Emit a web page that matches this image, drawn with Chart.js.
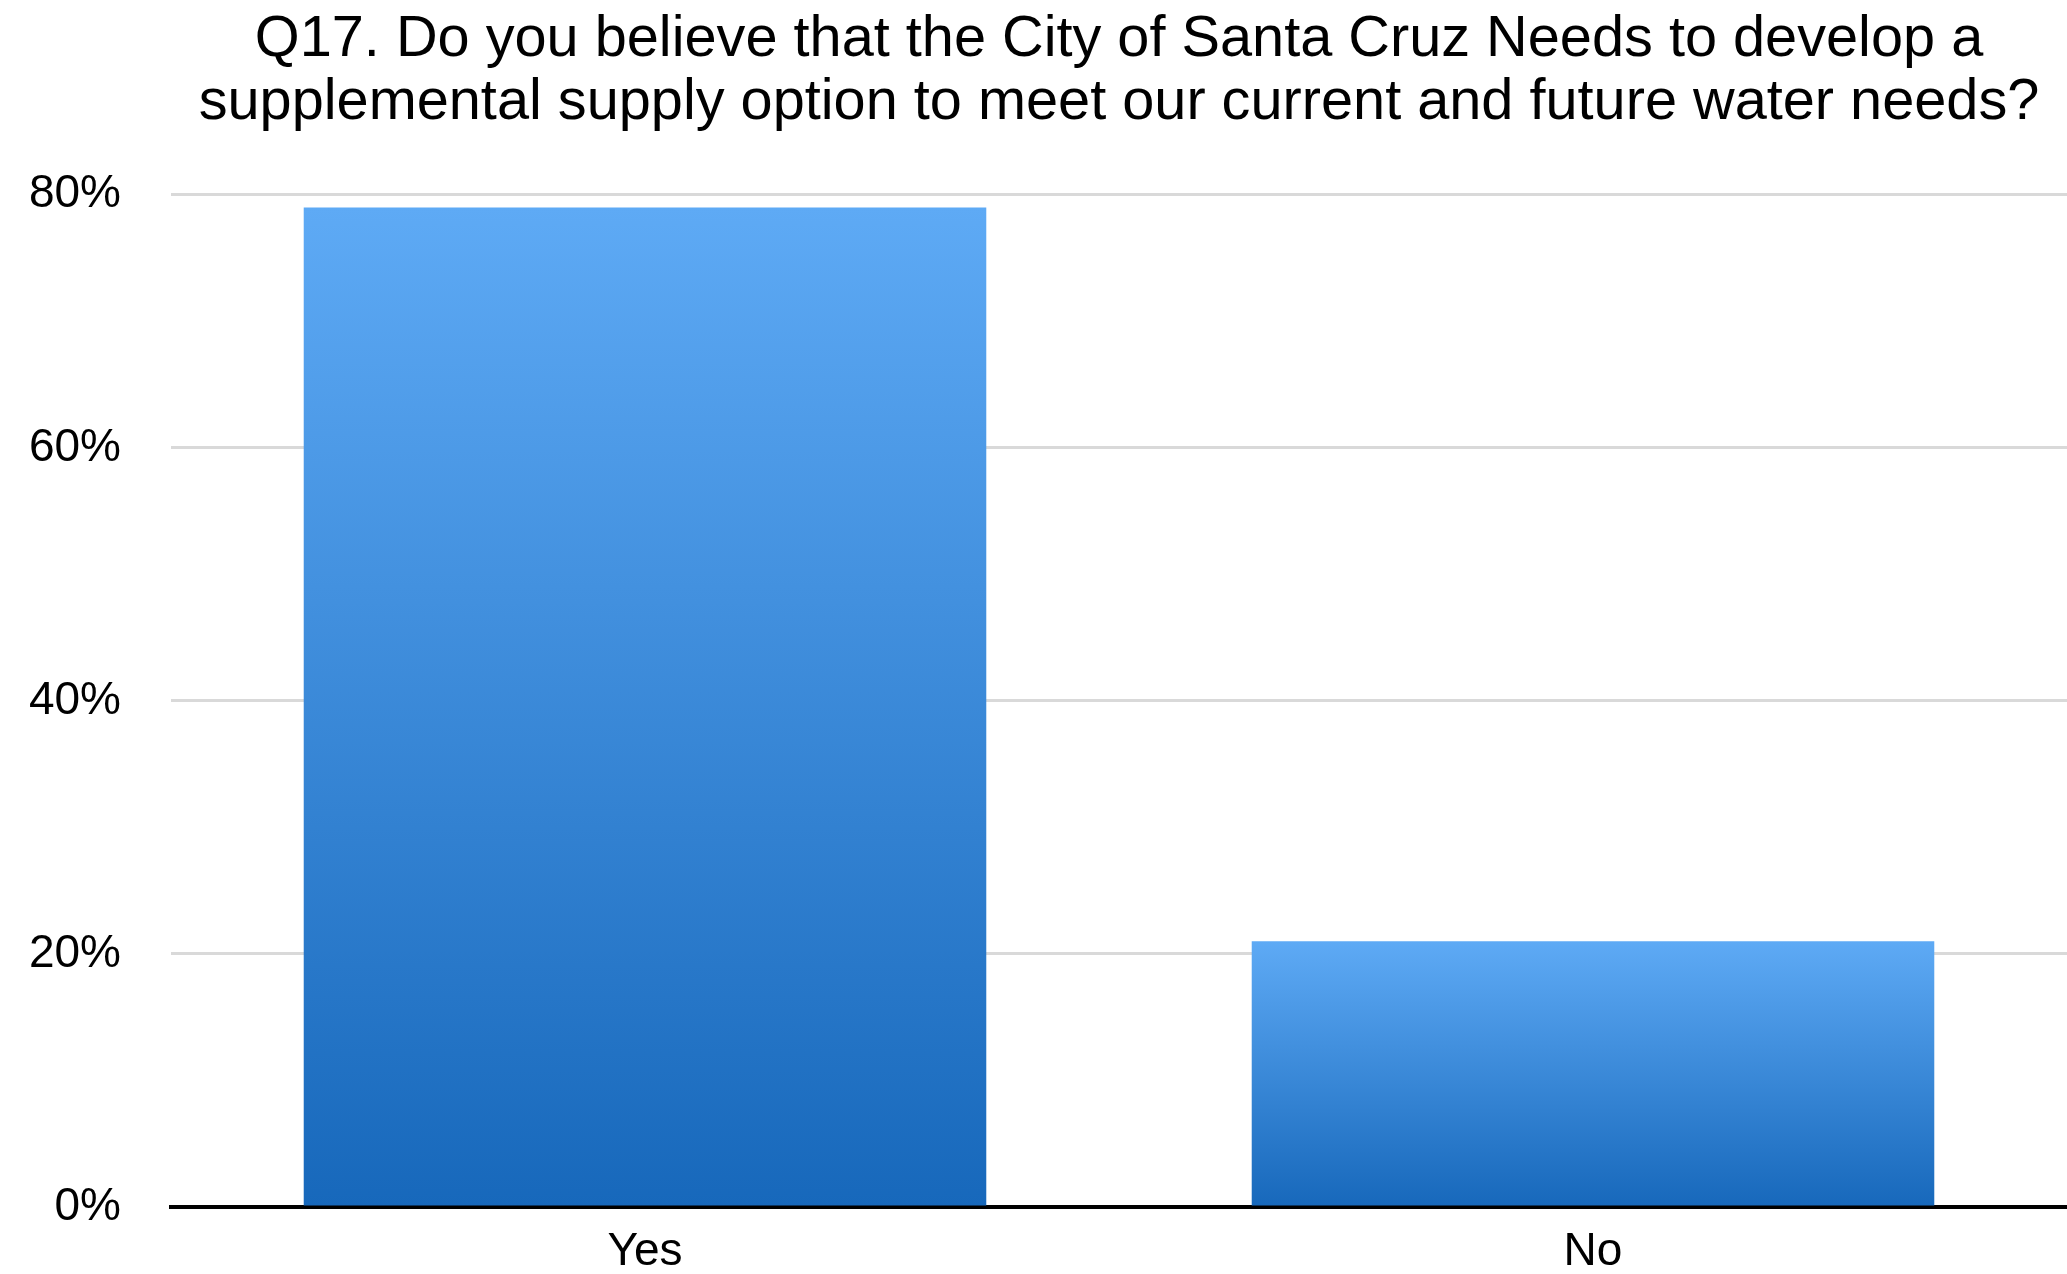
<!DOCTYPE html>
<html>
<head>
<meta charset="utf-8">
<script src="https://cdn.jsdelivr.net/npm/chart.js@4/dist/chart.umd.min.js"></script>
<style>
  html, body { margin: 0; padding: 0; background: #fff; }
  canvas { display: block; }
</style>
</head>
<body>
<canvas id="q17Chart" width="2067" height="1274"></canvas>
<script>
const categories = ['Yes', 'No'];
const percentValues = [79, 21];
const tickValues = [0, 20, 40, 60, 80];
const titleLines = [
  'Q17. Do you believe that the City of Santa Cruz Needs to develop a',
  'supplemental supply option to meet our current and future water needs?'
];

const fontFamily = '"Liberation Sans", Arial, Helvetica, sans-serif';

// vertical gradient per bar, light on top and darker at the base
function barGradient(context) {
  const chart = context.chart;
  if (!chart.chartArea || context.type !== 'data') return '#3a8be0';
  const yScale = chart.scales.y;
  const top = yScale.getPixelForValue(context.raw);
  const bottom = yScale.getPixelForValue(0);
  const g = chart.ctx.createLinearGradient(0, top, 0, bottom);
  g.addColorStop(0, '#5eaaf5');
  g.addColorStop(1, '#1768bb');
  return g;
}

const ctx = document.getElementById('q17Chart').getContext('2d');
const q17Chart = new Chart(ctx, {
  type: 'bar',
  data: {
    labels: categories,
    datasets: [{
      data: percentValues,
      backgroundColor: barGradient,
      borderWidth: 0,
      categoryPercentage: 0.72,
      barPercentage: 1
    }]
  },
  options: {
    responsive: false,
    devicePixelRatio: 1,
    animation: false,
    layout: { padding: 0 },
    plugins: {
      legend: { display: false },
      tooltip: { enabled: false },
      title: {
        display: true,
        fullSize: false,
        text: titleLines,
        color: '#000',
        font: { family: fontFamily, size: 57.7, weight: 'normal', lineHeight: 1.09 },
        padding: { top: 9, bottom: 60 }
      }
    },
    scales: {
      x: {
        afterFit: (scale) => { scale.height = 67; },
        grid: { display: false, drawTicks: false },
        border: { display: true, color: '#000', width: 4 },
        ticks: {
          color: '#000',
          padding: 18,
          font: { family: fontFamily, size: 46 }
        }
      },
      y: {
        min: 0,
        max: 80,
        afterBuildTicks: (scale) => {
          scale.ticks = tickValues.map(v => ({ value: v }));
        },
        afterFit: (scale) => {
          scale.width = 171;
          // tick padding would otherwise push the plot bottom up
          scale.paddingTop = 0;
          scale.paddingBottom = 0;
        },
        grid: { color: '#d9d9d9', lineWidth: 3, drawTicks: false },
        border: { display: false },
        ticks: {
          color: '#000',
          padding: 50,
          font: { family: fontFamily, size: 46 },
          callback: (v) => v + '%'
        }
      }
    }
  }
});
</script>
</body>
</html>
